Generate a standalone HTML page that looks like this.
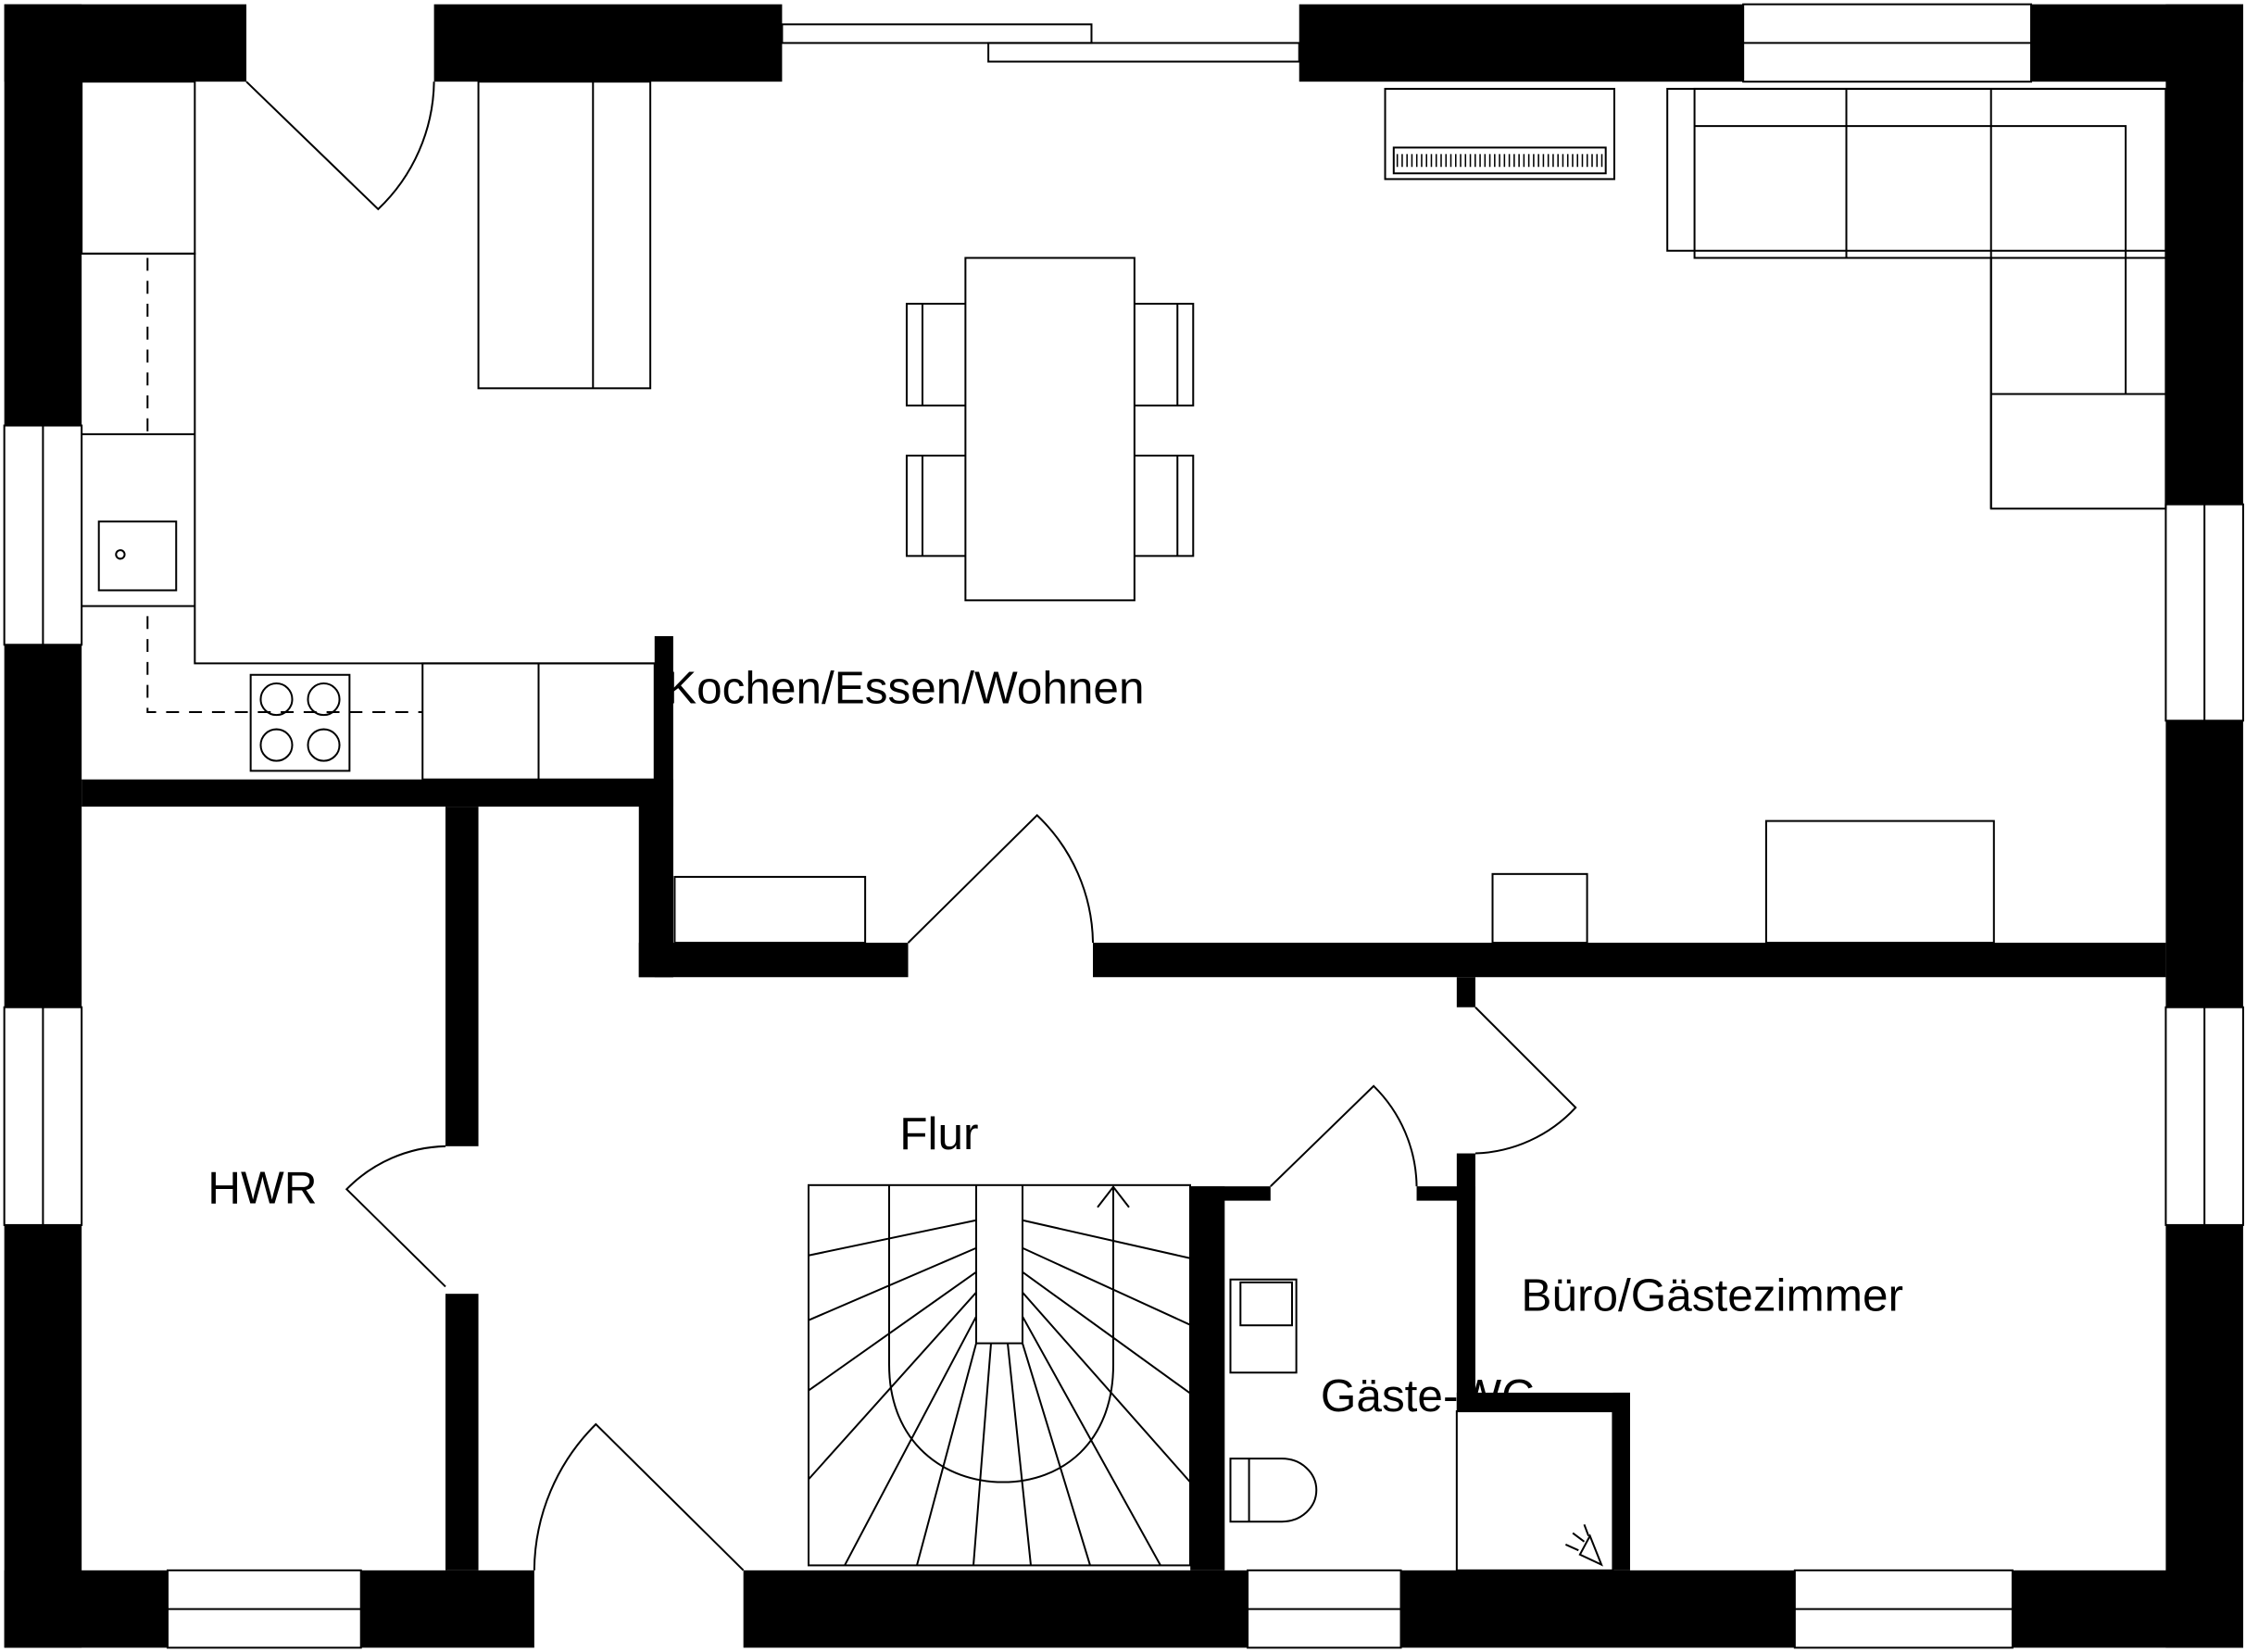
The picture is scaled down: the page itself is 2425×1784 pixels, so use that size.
<!DOCTYPE html>
<html><head><meta charset="utf-8"><style>html,body{margin:0;padding:0;background:#fff}svg{display:block}</style></head>
<body>
<svg width="2425" height="1784" viewBox="0 0 1568 1153" preserveAspectRatio="none" xmlns="http://www.w3.org/2000/svg">
<rect width="1568" height="1153" fill="#fff"/>
<g fill="#000">
<rect x="3" y="3" width="169" height="54"/>
<rect x="303" y="3" width="243" height="54"/>
<rect x="907" y="3" width="310" height="54"/>
<rect x="1418" y="3" width="148" height="54"/>
<rect x="3" y="3" width="54" height="294"/>
<rect x="3" y="450" width="54" height="253"/>
<rect x="3" y="855" width="54" height="295"/>
<rect x="1512" y="3" width="54" height="349"/>
<rect x="1512" y="503" width="54" height="200"/>
<rect x="1512" y="855" width="54" height="295"/>
<rect x="3" y="1096" width="114" height="54"/>
<rect x="252" y="1096" width="121" height="54"/>
<rect x="519" y="1096" width="352" height="54"/>
<rect x="978" y="1096" width="275" height="54"/>
<rect x="1405" y="1096" width="161" height="54"/>
<rect x="57" y="544" width="413" height="19"/>
<rect x="457" y="444" width="13" height="238"/>
<rect x="446" y="544" width="24" height="138"/>
<rect x="446" y="658" width="188" height="24"/>
<rect x="763" y="658" width="749" height="24"/>
<rect x="311" y="563" width="23" height="237"/>
<rect x="311" y="903" width="23" height="193"/>
<rect x="831" y="828" width="24" height="268"/>
<rect x="831" y="828" width="56" height="10"/>
<rect x="989" y="828" width="41" height="10"/>
<rect x="1017" y="682" width="13" height="21"/>
<rect x="1017" y="805" width="13" height="180"/>
<rect x="1017" y="972" width="121" height="13"/>
<rect x="1126" y="972" width="12" height="124"/>
</g>
<g fill="none" stroke="#000" stroke-width="1.3">
<rect x="3" y="297" width="54" height="153"/><line x1="30" y1="297" x2="30" y2="450"/>
<rect x="3" y="703" width="54" height="152"/><line x1="30" y1="703" x2="30" y2="855"/>
<rect x="1512" y="352" width="54" height="151"/><line x1="1539" y1="352" x2="1539" y2="503"/>
<rect x="1512" y="703" width="54" height="152"/><line x1="1539" y1="703" x2="1539" y2="855"/>
<rect x="1217" y="3" width="201" height="54"/><line x1="1217" y1="30" x2="1418" y2="30"/>
<rect x="117" y="1096" width="135" height="54"/><line x1="117" y1="1123" x2="252" y2="1123"/>
<rect x="871" y="1096" width="107" height="54"/><line x1="871" y1="1123" x2="978" y2="1123"/>
<rect x="1253" y="1096" width="152" height="54"/><line x1="1253" y1="1123" x2="1405" y2="1123"/>
<rect x="546" y="17" width="216" height="13"/>
<rect x="690" y="30" width="217" height="13"/>
<path d="M172 57 L264 146 A125 125 0 0 0 303 57"/>
<path d="M634 658 L724 569 A125 125 0 0 1 763 658"/>
<path d="M311 898 L242 830 A100 100 0 0 1 311 800"/>
<path d="M519 1096 L416 994 A145 145 0 0 0 373 1096"/>
<path d="M887 828 L959 758 A100 100 0 0 1 989 828"/>
<path d="M1030 703 L1100 773 A100 100 0 0 1 1030 805"/>
<rect x="57" y="57" width="79" height="120"/>
<path d="M57 177 H136 V463 H457"/>
<line x1="57" y1="303" x2="136" y2="303"/>
<line x1="57" y1="423" x2="136" y2="423"/>
<rect x="69" y="364" width="54" height="48"/>
<circle cx="84" cy="387" r="3"/>
<path d="M103 180 V303 M103 430 V497 H295" stroke-dasharray="9 7"/>
<rect x="175" y="471" width="69" height="67"/>
<circle cx="193" cy="488" r="11"/><circle cx="226" cy="488" r="11"/>
<circle cx="193" cy="520" r="11"/><circle cx="226" cy="520" r="11"/>
<rect x="295" y="463" width="162" height="81"/>
<line x1="376" y1="463" x2="376" y2="544"/>
<rect x="334" y="57" width="120" height="214"/>
<line x1="414" y1="57" x2="414" y2="271"/>
<rect x="674" y="180" width="118" height="239"/>
<path d="M674 212 H633 V283 H674 M644 212 V283"/>
<path d="M674 318 H633 V388 H674 M644 318 V388"/>
<path d="M792 212 H833 V283 H792 M822 212 V283"/>
<path d="M792 318 H833 V388 H792 M822 318 V388"/>
<rect x="967" y="62" width="160" height="63"/>
<rect x="973" y="103" width="148" height="18"/>
<line x1="975" y1="112" x2="1120" y2="112" stroke-width="9" stroke-dasharray="1 2.4"/>
<rect x="1164" y="62" width="348" height="113"/>
<rect x="1183" y="62" width="329" height="118"/>
<path d="M1183 88 H1484 V275"/>
<line x1="1289" y1="62" x2="1289" y2="180"/>
<line x1="1390" y1="62" x2="1390" y2="355"/>
<rect x="1390" y="180" width="122" height="175"/>
<line x1="1390" y1="275" x2="1512" y2="275"/>
<rect x="471" y="612" width="133" height="46"/>
<rect x="1042" y="610" width="66" height="48"/>
<rect x="1233" y="573" width="159" height="85"/>
<rect x="859" y="893" width="46" height="65"/>
<rect x="866" y="895" width="36" height="30"/>
<path d="M859 1018 H895 A24 22 0 0 1 895 1062 H859 Z M872 1018 V1062"/>
</g>
<g fill="none" stroke="#000" stroke-width="2" transform="scale(0.6466,0.6457)">
<rect x="873" y="1281" width="412" height="411"/>
<path d="M1054 1281 V1452 H1104 V1281"/>
<path d="M960 1281 V1475 C960 1560 1020 1602 1083 1602 C1146 1602 1202 1560 1202 1475 V1283 M1185 1305 L1202 1283 L1219 1305"/>
<path d="M1054 1319 L873 1357 M1054 1349 L873 1427 M1054 1375 L873 1503 M1054 1397 L873 1599 M1054 1423 L912 1692 M1054 1452 L990 1692 M1070 1452 L1051 1692 M1088 1452 L1113 1692 M1104 1452 L1177 1692 M1104 1423 L1253 1692 M1104 1397 L1285 1602 M1104 1375 L1285 1506 M1104 1349 L1285 1432 M1104 1319 L1285 1360"/>
</g>
<g font-family="Liberation Sans, sans-serif" font-size="32" fill="#000">
<text x="465" y="491">Kochen/Essen/Wohnen</text>
<text x="628" y="802">Flur</text>
<text x="145" y="840">HWR</text>
<text x="1062" y="915">Büro/Gästezimmer</text>
<text x="922" y="985">Gäste-WC</text>
</g>
<rect x="1017" y="985" width="109" height="111" fill="#fff" stroke="#000" stroke-width="1.3"/>
<path d="M1110 1072 L1118 1092 L1103 1085 Z M1098 1070 l8 6 M1093 1078 l9 4 M1106 1064 l3 8" fill="none" stroke="#000" stroke-width="1.3"/>
</svg>
</body></html>
